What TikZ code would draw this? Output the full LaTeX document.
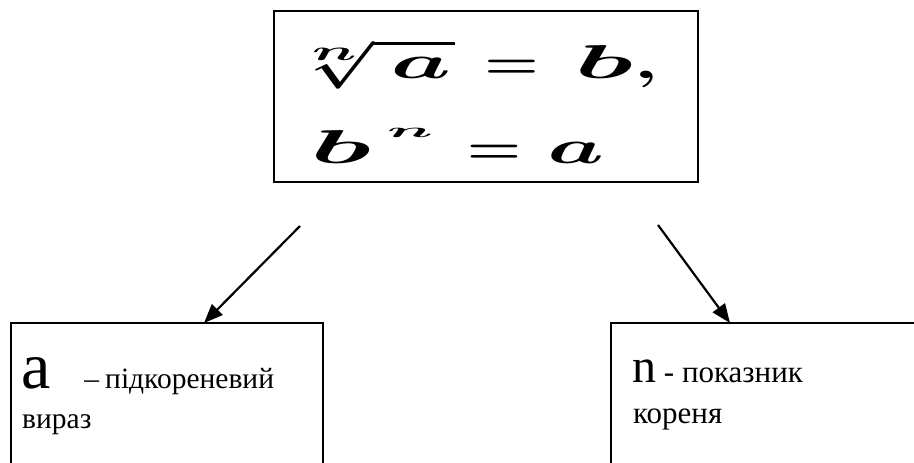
\documentclass[tikz,border=0pt]{standalone}
\usepackage{fontspec}
\setmainfont{Liberation Serif}
\usepackage{graphicx}
\usetikzlibrary{arrows.meta}

\begin{document}
\begin{tikzpicture}[x=1pt,y=-1pt,
  box/.style={draw,line width=2.4pt,inner sep=0pt},
  arr/.style={line width=2.2pt,-{Triangle[length=19pt,width=15pt]}},
  formula/.style={anchor=base west,inner sep=0pt,font=\Huge\boldmath},
  word/.style={anchor=base west,inner sep=0pt,font=\fontsize{31}{40}\selectfont}]
\useasboundingbox (0,0) rectangle (914,463);
\clip (0,0) rectangle (914,463);
% boxes
\node[box,minimum width=424pt,minimum height=171pt] (topbox) at (486,96.5) {};
\node[box,minimum width=312pt,minimum height=180pt] (lbox) at (167,413) {};
\node[box,minimum width=329pt,minimum height=180pt] (rbox) at (775.5,413) {};
% formula, stretched wide as in the original
\node[formula] (rootline) at (312,78)
  {\raisebox{18pt}{\scalebox{3.6}[1.6]{$\scriptscriptstyle n$}}\hspace{-46pt}%
   \scalebox{2.65}[1.91]{$\sqrt{\mkern4mu\scalebox{1.45}[1]{$a$}\mkern1mu}$}\hspace{29pt}%
   \scalebox{2.5}[1.91]{$=$}\hspace{36pt}\scalebox{4.5}[1.91]{$b$}\hspace{1pt}\scalebox{3}[1.91]{$,$}};
\node[formula] (powline) at (310,163)
  {\scalebox{4.7}[1.91]{$b$}\hspace{16pt}\raisebox{26pt}{\scalebox{3.1}[1.0]{$\scriptstyle n$}}\hspace{34pt}%
   \scalebox{2.5}[1.91]{$=$}\hspace{26pt}\scalebox{3.6}[1.91]{$a$}};
% arrows
\coordinate (lfrom) at (300,226);
\coordinate (lto) at (204,323);
\coordinate (rfrom) at (658,225);
\coordinate (rto) at (730,323);
\draw[arr] (lfrom) -- (lto);
\draw[arr] (rfrom) -- (rto);
% texts
\node[word,font=\fontsize{29.5}{40}\selectfont] (aline) at (21,388)
  {{\fontsize{66}{66}\selectfont a}\hspace{34pt}–\hspace{6pt}підкореневий};
\node[word,font=\fontsize{29.5}{40}\selectfont] (aline2) at (22,428) {вираз};
\node[word] (nline) at (632,382) {{\fontsize{48}{48}\selectfont n} - показник};
\node[word] (nline2) at (633,423) {кореня};
\end{tikzpicture}
\end{document}
